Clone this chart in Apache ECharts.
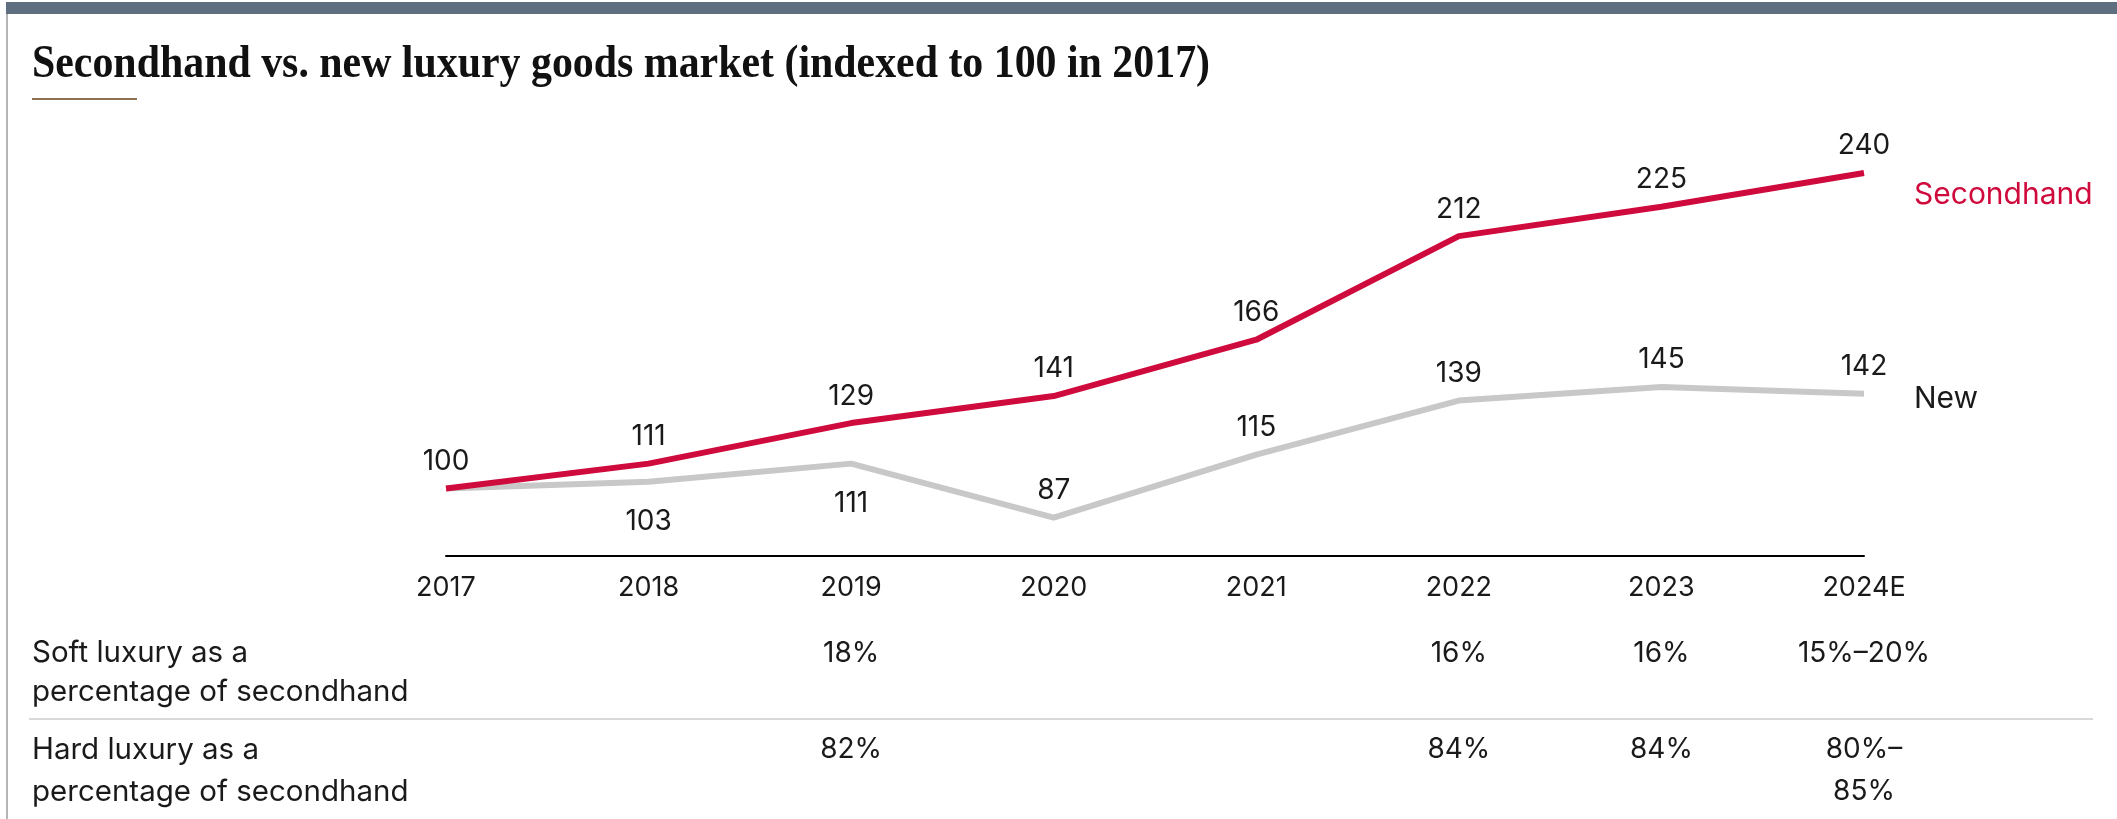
<!DOCTYPE html>
<html>
<head>
<meta charset="utf-8">
<script src="https://cdn.jsdelivr.net/npm/echarts@6/dist/echarts.min.js"></script>
<style>
  html, body { margin: 0; padding: 0; background: #ffffff; }
  #chart { width: 2117px; height: 819px; }
</style>
</head>
<body>
<div id="chart"></div>
<script>
// Index values (2017 = 100)
const years = ['2017', '2018', '2019', '2020', '2021', '2022', '2023', '2024E'];
const secondhand = [100, 111, 129, 141, 166, 212, 225, 240];
const newGoods = [100, 103, 111, 87, 115, 139, 145, 142];

// Where each "New" value label sits relative to its point (null = no label)
const newLabelSide = [null, 'bottom', 'bottom', 'top', 'top', 'top', 'top', 'top'];

// Share of the secondhand market, per year
const softShare = ['', '', '18%', '', '', '16%', '16%', '15%–20%'];
const hardShare = ['', '', '82%', '', '', '84%', '84%', '80%–\n85%'];
const rowLabels = ['Soft luxury as a\npercentage of secondhand', 'Hard luxury as a\npercentage of secondhand'];

const titleText = 'Secondhand vs. new luxury goods market (indexed to 100 in 2017)';

const RED = '#cf0a3d';
const GREY = '#c8c8c8';
const INK = '#1a1a1a';
const SANS = 'Inter, "Noto Sans", Roboto, sans-serif';

const chart = echarts.init(document.getElementById('chart'), null, { renderer: 'canvas' });

const labelFont = { fontFamily: SANS, fontSize: 28, color: INK };

chart.setOption({
  backgroundColor: '#ffffff',
  animation: false,
  grid: { left: 446, right: 253, top: 150.5, bottom: 263, containLabel: false },
  xAxis: {
    type: 'category',
    data: years,
    boundaryGap: false,
    axisLine: { show: true, lineStyle: { color: '#000000', width: 2 } },
    axisTick: { show: false },
    axisLabel: { margin: 18, fontFamily: SANS, fontSize: 27, color: INK },
    splitLine: { show: false }
  },
  yAxis: {
    type: 'value',
    min: 70,
    max: 250,
    show: false,
    splitLine: { show: false }
  },
  series: [
    {
      name: 'New',
      type: 'line',
      data: newGoods.map((v, i) => ({
        value: v,
        label: newLabelSide[i]
          ? { show: true, position: newLabelSide[i], distance: newLabelSide[i] === 'top' ? 13 : 26 }
          : { show: false }
      })),
      symbol: 'circle',
      symbolSize: 0,
      showSymbol: true,
      itemStyle: { color: GREY },
      lineStyle: { color: GREY, width: 6 },
      label: Object.assign({ show: true }, labelFont),
      endLabel: {
        show: true,
        formatter: 'New',
        fontFamily: SANS,
        fontSize: 30,
        color: INK,
        distance: 50,
        offset: [0, 5]
      },
      z: 2
    },
    {
      name: 'Secondhand',
      type: 'line',
      data: secondhand,
      symbol: 'circle',
      symbolSize: 0,
      showSymbol: true,
      itemStyle: { color: RED },
      lineStyle: { color: RED, width: 6 },
      label: Object.assign({ show: true, position: 'top', distance: 13 }, labelFont),
      endLabel: {
        show: true,
        formatter: 'Secondhand',
        fontFamily: SANS,
        fontSize: 30,
        color: RED,
        distance: 50,
        offset: [0, 22]
      },
      z: 3
    }
  ]
});

// Frame, title and the share table below the axis
function drawExtras() {
  const colX = years.map(y => chart.convertToPixel({ xAxisIndex: 0 }, y));
  const els = [];

  els.push({ type: 'rect', shape: { x: 6, y: 2, width: 2111, height: 12 }, style: { fill: '#5f6f7f' }, silent: true });
  els.push({ type: 'rect', shape: { x: 6, y: 14, width: 2, height: 805 }, style: { fill: '#b5b5b5' }, silent: true });

  els.push({
    type: 'text', x: 32, y: 65, scaleX: 0.91,
    style: {
      text: titleText,
      fontFamily: '"Liberation Serif", "DejaVu Serif", serif',
      fontWeight: 'bold', fontSize: 46, fill: '#111111',
      align: 'left', verticalAlign: 'middle'
    }
  });
  els.push({ type: 'rect', shape: { x: 32, y: 98, width: 105, height: 2 }, style: { fill: '#8c7250' }, silent: true });

  // table rows
  const rowTops = [634, 729];
  const rowLineHeights = [39, 42];
  [softShare, hardShare].forEach((row, r) => {
    els.push({
      type: 'text', x: 32, y: rowTops[r],
      style: { text: rowLabels[r], fontFamily: SANS, fontSize: 29.5, lineHeight: rowLineHeights[r], fill: INK, align: 'left', verticalAlign: 'top' }
    });
    row.forEach((t, i) => {
      if (!t) return;
      els.push({
        type: 'text', x: colX[i], y: rowTops[r],
        style: { text: t, fontFamily: SANS, fontSize: 28, lineHeight: rowLineHeights[r], fill: INK, align: 'center', verticalAlign: 'top' }
      });
    });
  });
  els.push({ type: 'rect', shape: { x: 29, y: 718, width: 2064, height: 2 }, style: { fill: '#d9d9d9' }, silent: true });

  chart.setOption({ graphic: els });
}
drawExtras();
</script>
</body>
</html>
